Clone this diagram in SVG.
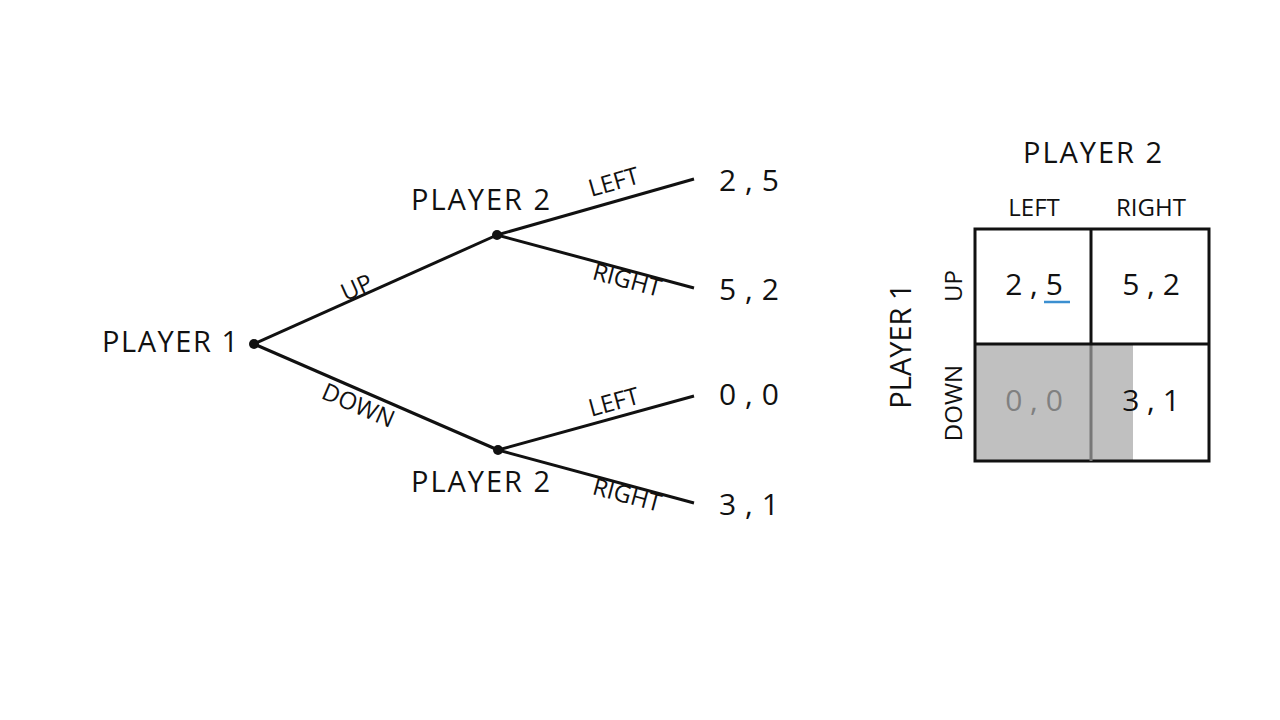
<svg xmlns="http://www.w3.org/2000/svg" width="1280" height="720" viewBox="0 0 1280 720">
<style>
text{font-family:"Open Sans","Liberation Sans",sans-serif;fill:#111}
.big{font-size:29px}
.lab{font-size:24px}
.pay{font-size:30px}
.e{stroke:#111;stroke-width:3;fill:none}
</style>
<rect width="1280" height="720" fill="#fff"/>
<g id="connectors">
<line class="e" x1="254" y1="344" x2="497" y2="235"/>
<line class="e" x1="254" y1="344" x2="498" y2="450"/>
<line class="e" x1="497" y1="235" x2="694" y2="179"/>
<line class="e" x1="497" y1="235" x2="694" y2="288"/>
<line class="e" x1="498" y1="450" x2="694" y2="396"/>
<line class="e" x1="498" y1="450" x2="694" y2="503"/>
<text class="lab" transform="translate(360,295) rotate(-24)" text-anchor="middle">UP</text>
<text class="lab" transform="translate(355,413) rotate(23.5)" text-anchor="middle">DOWN</text>
<text class="lab" transform="translate(616,190) rotate(-16)" text-anchor="middle">LEFT</text>
<text class="lab" transform="translate(625,288) rotate(15)" text-anchor="middle">RIGHT</text>
<text class="lab" transform="translate(616,410) rotate(-15.4)" text-anchor="middle">LEFT</text>
<text class="lab" transform="translate(625,503) rotate(15)" text-anchor="middle">RIGHT</text>
</g>
<g id="root"><circle cx="254" cy="344" r="5" fill="#111"/><text class="big" x="102" y="352" textLength="136">PLAYER 1</text></g>
<g id="p2up"><circle cx="497" cy="235" r="5" fill="#111"/><text class="big" x="411" y="210" textLength="139">PLAYER 2</text></g>
<g id="p2down"><circle cx="498" cy="450" r="5" fill="#111"/><text class="big" x="411" y="492" textLength="139">PLAYER 2</text></g>
<g id="payoffs">
<text class="pay" x="719" y="191" textLength="60">2 , 5</text>
<text class="pay" x="719" y="300" textLength="60">5 , 2</text>
<text class="pay" x="719" y="405" textLength="60">0 , 0</text>
<text class="pay" x="719" y="515" textLength="60">3 , 1</text>
</g>
<g id="matrix">
<rect x="975" y="344" width="158" height="117" fill="#c0c0c0"/>
<rect x="975" y="229" width="234" height="232" fill="none" stroke="#111" stroke-width="3"/>
<line x1="1091" y1="229" x2="1091" y2="344" stroke="#111" stroke-width="3"/>
<line x1="1091" y1="344" x2="1091" y2="461" stroke="#777" stroke-width="3"/>
<line x1="975" y1="344" x2="1209" y2="344" stroke="#111" stroke-width="3"/>
<text class="big" x="1023" y="163" textLength="139">PLAYER 2</text>
<text class="lab" x="1034" y="216" text-anchor="middle">LEFT</text>
<text class="lab" x="1151" y="216" text-anchor="middle">RIGHT</text>
<text class="big" transform="translate(911,346) rotate(-90)" text-anchor="middle">PLAYER 1</text>
<text class="lab" transform="translate(962,286) rotate(-90)" text-anchor="middle">UP</text>
<text class="lab" transform="translate(962,403) rotate(-90)" text-anchor="middle">DOWN</text>
<text class="pay" x="1034" y="295" text-anchor="middle">2 , 5</text>
<line x1="1044" y1="302" x2="1070" y2="302" stroke="#3b8fd0" stroke-width="2.5"/>
<text class="pay" x="1151" y="295" text-anchor="middle">5 , 2</text>
<text class="pay" x="1034" y="411" text-anchor="middle" style="fill:#808080">0 , 0</text>
<text class="pay" x="1151" y="411" text-anchor="middle">3 , 1</text>
</g>
</svg>
